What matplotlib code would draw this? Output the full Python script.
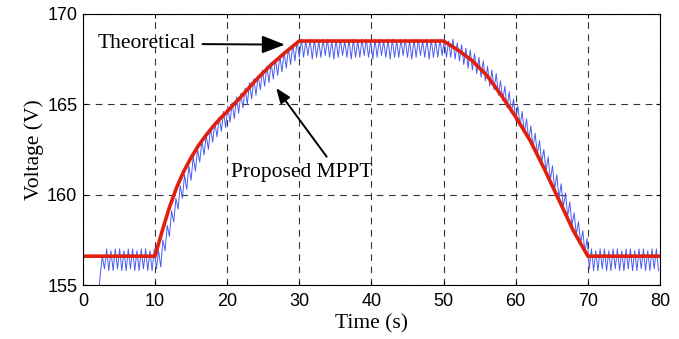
import numpy as np
import matplotlib
matplotlib.use("Agg")
import matplotlib.pyplot as plt

# theoretical MPPT voltage
theo_t = [0, 10, 11, 12, 13, 14, 15, 16, 17, 18, 19, 20, 22, 24, 26, 28, 30,
          50, 52, 54, 56, 58, 60, 62, 64, 66, 68, 70, 80]
theo_v = [156.6, 156.6, 158.0, 159.3, 160.4, 161.3, 162.05, 162.7, 163.25, 163.75, 164.2,
          164.6, 165.45, 166.35, 167.15, 167.85, 168.5,
          168.5, 168.0, 167.4, 166.6, 165.5, 164.3, 163.0, 161.4, 159.7, 158.0, 156.6, 156.6]

# proposed MPPT voltage, one sample every 0.3 s
blue_dt = 0.3
blue_v = [
    154.0, 154.0, 154.0, 154.0, 154.0, 154.0, 154.0, 154.0, 155.5, 156.6,
    155.9, 157.0, 155.8, 156.9, 155.8, 157.0, 155.9, 157.0, 155.8, 156.9,
    155.8, 157.0, 155.9, 157.0, 155.8, 156.9, 155.8, 157.0, 155.9, 157.0,
    155.8, 156.9, 155.8, 157.0,
    155.9, 156.9, 156.0, 157.5, 156.9, 158.3, 157.7, 159.1, 158.5, 159.8,
    159.2, 160.5, 159.8, 161.1, 160.3, 161.6, 160.8, 162.1, 161.3, 162.5,
    161.8, 163.0, 162.2, 163.3, 162.5, 163.7, 162.9, 164.0, 163.2, 164.3,
    163.5, 164.6, 163.7, 164.9, 164.0, 165.1, 164.2, 165.4, 164.5, 165.6,
    164.8, 165.9, 165.0, 166.2, 165.3, 166.4, 165.5, 166.6, 165.8, 166.9,
    166.0, 167.1, 166.2, 167.3, 166.4, 167.5, 166.6, 167.7, 166.8, 167.9,
    167.0, 168.1, 167.2, 168.3, 167.4, 168.5, 167.6,
    168.6, 167.6, 168.5, 167.7, 168.6, 167.5, 168.6, 167.6, 168.5, 167.6,
    168.6, 167.7, 168.6, 167.6, 168.5, 167.5, 168.6, 167.6, 168.6, 167.7,
    168.5, 167.6, 168.6, 167.5, 168.6, 167.6, 168.5, 167.6, 168.6, 167.7,
    168.6, 167.6, 168.5, 167.5, 168.6, 167.6, 168.6, 167.7, 168.5, 167.6,
    168.6, 167.5, 168.6, 167.6, 168.5, 167.6, 168.6, 167.7, 168.6, 167.6,
    168.5, 167.5, 168.6, 167.6, 168.6, 167.7, 168.5, 167.6, 168.6, 167.5,
    168.6, 167.6, 168.5, 167.6, 168.6, 167.7, 168.6, 167.6, 168.5, 167.6,
    168.6, 167.5, 168.4, 167.4, 168.3, 167.2, 168.1, 167.0, 168.0, 166.9,
    167.8, 166.7, 167.6, 166.5, 167.4, 166.3, 167.1, 166.0, 166.9, 165.8,
    166.7, 165.5, 166.3, 165.2, 166.0, 164.8, 165.7, 164.5, 165.3, 164.1,
    164.9, 163.8, 164.6, 163.4, 164.2, 163.0, 163.8, 162.6, 163.4, 162.2,
    163.0, 161.8, 162.5, 161.3, 162.1, 160.8, 161.6, 160.3, 161.1, 159.8,
    160.6, 159.3, 160.1, 158.8, 159.6, 158.3, 159.0, 157.8, 158.5, 157.3,
    158.0, 156.8, 157.6,
    155.9, 157.0, 155.8, 156.9, 155.8, 157.0, 155.9, 157.0, 155.8, 156.9,
    155.8, 157.0, 155.9, 157.0, 155.8, 156.9, 155.8, 157.0, 155.9, 157.0,
    155.8, 156.9, 155.8, 157.0, 155.9, 157.0, 155.8, 156.9, 155.8, 157.0,
    155.9, 157.0, 155.8,
]
blue_t = np.arange(len(blue_v)) * blue_dt

x_ticks = [0, 10, 20, 30, 40, 50, 60, 70, 80]
y_ticks = [155, 160, 165, 170]

fig = plt.figure(figsize=(6.79, 3.39), dpi=100)
ax = fig.add_axes([0.122, 0.159, 0.85, 0.80])

ax.plot(blue_t, blue_v, color="#4a5cf0", lw=0.7)
ax.plot(theo_t, theo_v, color="#e0200c", lw=2.6)

ax.set_xlim(0, 80)
ax.set_ylim(155, 170)
ax.set_xticks(x_ticks)
ax.set_yticks(y_ticks)
ax.grid(True, color="black", linestyle=(0, (6, 5)), lw=0.8, alpha=0.8)
ax.tick_params(direction="in", top=True, right=True, length=3, labelsize=13)
ax.tick_params(axis="x", pad=6)
ax.tick_params(axis="y", pad=4)
for lab in ax.get_xticklabels() + ax.get_yticklabels():
    lab.set_family("Liberation Sans")
for s in ax.spines.values():
    s.set_linewidth(0.8)

serif = "Liberation Serif"
ax.set_xlabel("Time (s)", family=serif, fontsize=15.5, labelpad=3)
ax.set_ylabel("Voltage (V)", family=serif, fontsize=15.5, labelpad=2)

arrow = dict(arrowstyle="-|>,head_length=0.9,head_width=0.35", color="black", lw=1.4)
ax.annotate("Theoretical", xy=(28.0, 168.3), xytext=(2.0, 168.35),
            family=serif, fontsize=15.5, va="center", ha="left",
            arrowprops=dict(arrow, shrinkA=3, shrinkB=0))
ax.annotate("", xy=(26.8, 165.9), xytext=(33.8, 162.1),
            arrowprops=dict(arrow, shrinkA=0, shrinkB=0))
ax.text(20.6, 161.25, "Proposed MPPT", family=serif, fontsize=15.5, va="center", ha="left")

fig.savefig("out.png", dpi=100)
